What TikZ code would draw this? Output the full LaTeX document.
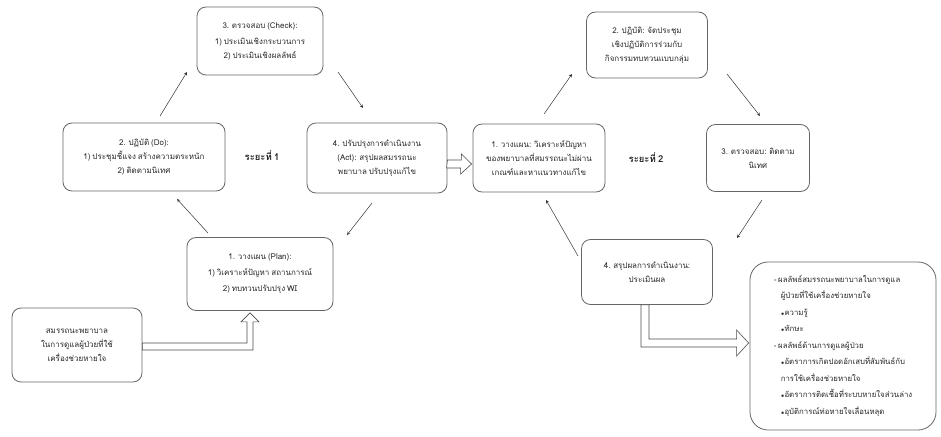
\documentclass[tikz,border=0pt]{standalone}
\usepackage{fontspec}
\usepackage{tikz}
\usetikzlibrary{calc}
\newfontfamily\thaifont[Script=Thai,WordSpace=0.7]{Loma}

\begin{document}
\begin{tikzpicture}[x=1pt,y=-1pt,>=stealth,
  box/.style={draw=black!60,line width=0.8pt,rounded corners=9pt,align=center,inner sep=2pt,
    text=black!85,font=\thaifont\fontsize{8}{14}\selectfont},
  phase/.style={text=black!85,font=\thaifont\bfseries\fontsize{9.5}{11}\selectfont},
  hollow/.style={draw=black!70,line width=0.6pt,fill=white},
  cyc/.style={->,black!80,line width=0.5pt}]
\useasboundingbox (0,0) rectangle (941,436);
% phase 1
\node[box,minimum width=126,minimum height=68] (chk1) at (260,41)
  {3. ตรวจสอบ (Check):\\[2pt] 1) ประเมินเชิงกระบวนการ\\ 2) ประเมินเชิงผลลัพธ์};
\node[box,minimum width=162,minimum height=68] (do1) at (144,157)
  {2. ปฏิบัติ (Do):\\ 1) ประชุมชี้แจง สร้างความตระหนัก\\ 2) ติดตามนิเทศ};
\node[box,minimum width=140,minimum height=70] (act1) at (377,158)
  {4. ปรับปรุงการดำเนินงาน\\ (Act): สรุปผลสมรรถนะ\\ พยาบาล ปรับปรุงแก้ไข};
\node[box,minimum width=146,minimum height=73] (plan1) at (260,274)
  {1. วางแผน (Plan):\\[2pt] 1) วิเคราะห์ปัญหา สถานการณ์\\[2pt] 2) ทบทวนปรับปรุง WI};
\node[box,minimum width=130,minimum height=74] (inp) at (77,345)
  {สมรรถนะพยาบาล\\ ในการดูแลผู้ป่วยที่ใช้\\ เครื่องช่วยหายใจ};
\node[phase] (ph1) at (262,156) {ระยะที่ 1};
% phase 2
\node[box,minimum width=132,minimum height=68] (plan2) at (539,158)
  {1. วางแผน: วิเคราะห์ปัญหา\\ ของพยาบาลที่สมรรถนะไม่ผ่าน\\ เกณฑ์และหาแนวทางแก้ไข};
\node[box,minimum width=121,minimum height=66] (do2) at (647,45)
  {2. ปฏิบัติ: จัดประชุม\\ เชิงปฏิบัติการร่วมกับ\\ กิจกรรมทบทวนแบบกลุ่ม};
\node[box,minimum width=103,minimum height=67] (chk2) at (758,158)
  {3. ตรวจสอบ: ติดตาม\\ นิเทศ};
\node[box,minimum width=131,minimum height=65] (act2) at (647,272)
  {4. สรุปผลการดำเนินงาน:\\ ประเมินผล};
\node[phase] (ph2) at (646,158) {ระยะที่ 2};
\node[box,rounded corners=18pt,minimum width=186,minimum height=168,align=left,
  font=\thaifont\fontsize{7.8}{16.5}\selectfont] (out) at (843,346)
  {- ผลลัพธ์สมรรถนะพยาบาลในการดูแล\\
   \hspace*{0.9em}ผู้ป่วยที่ใช้เครื่องช่วยหายใจ\\
   \hspace*{0.9em}$\scriptstyle\bullet$ความรู้\\
   \hspace*{0.9em}$\scriptstyle\bullet$ทักษะ\\
   - ผลลัพธ์ด้านการดูแลผู้ป่วย\\
   \hspace*{0.9em}$\scriptstyle\bullet$อัตราการเกิดปอดอักเสบที่สัมพันธ์กับ\\
   \hspace*{0.9em}การใช้เครื่องช่วยหายใจ\\
   \hspace*{0.9em}$\scriptstyle\bullet$อัตราการติดเชื้อที่ระบบหายใจส่วนล่าง\\
   \hspace*{0.9em}$\scriptstyle\bullet$อุบัติการณ์ท่อหายใจเลื่อนหลุด};
% cycle arrows
\coordinate (p1a) at (208,233); \coordinate (p1b) at (177,199);
\coordinate (d1a) at (160,116); \coordinate (d1b) at (187,72);
\coordinate (c1a) at (338,72);  \coordinate (c1b) at (363,108);
\coordinate (a1a) at (372,203); \coordinate (a1b) at (347,235);
\draw[cyc] (p1a) -- (p1b);
\draw[cyc] (d1a) -- (d1b);
\draw[cyc] (c1a) -- (c1b);
\draw[cyc] (a1a) -- (a1b);
\coordinate (p2a) at (544,114); \coordinate (p2b) at (572,74);
\coordinate (d2a) at (727,74);  \coordinate (d2b) at (760,116);
\coordinate (c2a) at (762,200); \coordinate (c2b) at (737,238);
\coordinate (a2a) at (578,256); \coordinate (a2b) at (546,200);
\draw[cyc] (p2a) -- (p2b);
\draw[cyc] (d2a) -- (d2b);
\draw[cyc] (c2a) -- (c2b);
\draw[cyc] (a2a) -- (a2b);
% block arrows
\draw[hollow] ($(inp.east)+(0,-2)$) -| ($(plan1.south)+(-13,11)$) -- ++(-6,0)
  -- ($(plan1.south)+(-10,2)$) -- ++(9,9) -- ++(-6,0) |- ($(inp.east)+(0,5)$) -- cycle;
\draw[hollow] ($(act1.east)+(0,2)$) -- ++(14,0) -- ++(0,-6) -- ($(plan2.west)+(-1,6)$)
  -- ++(-11,10) -- ++(0,-6) -- ++(-14,0) -- cycle;
\draw[hollow] ($(act2.south)+(-6,0)$) |- ($(out.west)+(-13,1)$) -- ++(0,9)
  -- ($(out.west)+(-1,-3)$) -- ++(-12,-13) -- ++(0,9) -| ($(act2.south)+(2,0)$) -- cycle;
\end{tikzpicture}
\end{document}
